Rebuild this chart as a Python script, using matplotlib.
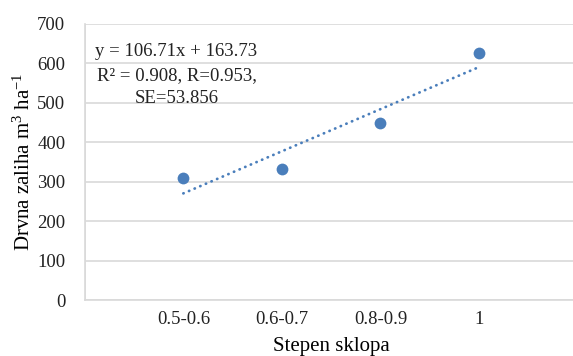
"""
Drvna zaliha prema stepenu sklopa - scatter with linear trendline
"""

# IMPORT
import matplotlib.pyplot as plt
import numpy as np

# DATA
categories = ['0.5-0.6', '0.6-0.7', '0.8-0.9', '1']
zaliha = [310, 333, 450, 625]
slope = 106.71
intercept = 163.73
eq_text = 'y = 106.71x + 163.73\nR² = 0.908, R=0.953,\nSE=53.856'

plt.rcParams['font.family'] = ['Liberation Serif', 'DejaVu Serif']
plt.rcParams['mathtext.fontset'] = 'custom'
plt.rcParams['mathtext.rm'] = 'Liberation Serif'
plt.rcParams['mathtext.it'] = 'Liberation Serif:italic'
blue = '#4a7ebb'
grid_col = '#d9d9d9'

# PLOT
fig = plt.figure(figsize=(5.73, 3.56), dpi=100)
ax = fig.add_axes([0.148, 0.157, 0.86, 0.776])

x = np.arange(1, len(categories) + 1)
ax.scatter(x, zaliha, s=72, color=blue, zorder=3, linewidths=0)

# trendline
xt = np.array([x[0], x[-1]])
ax.plot(xt, slope * xt + intercept, color=blue, lw=2,
        linestyle=(0, (0.1, 2.1)), dash_capstyle='round', zorder=2)

ax.set_xlim(0, 5)
ax.set_ylim(0, 700)
ax.set_yticks(range(0, 701, 100))
ax.set_xticks(x)
ax.set_xticklabels(categories)
ax.set_xticks(range(0, 6), minor=True)

# excel-like grid
ax.yaxis.grid(True, color=grid_col, lw=1.2, zorder=0)
ax.xaxis.grid(True, which='minor', color=grid_col, lw=1.2, zorder=0)
ax.set_axisbelow(True)
for s in ['top', 'right']:
    ax.spines[s].set_visible(False)
for s in ['bottom', 'left']:
    ax.spines[s].set_color(grid_col)
    ax.spines[s].set_linewidth(1.2)
ax.tick_params(which='both', length=0, labelsize=13.5, colors='#222222', pad=8)
ax.tick_params(axis='y', pad=14)

ax.set_xlabel('Stepen sklopa', fontsize=15, labelpad=6)
ax.set_ylabel(r'Drvna zaliha m$^3$ ha$^{-1}$', fontsize=15, labelpad=2)

ax.text(0.93, 570, eq_text, fontsize=13.5, ha='center', va='center',
        linespacing=1.5, color='#222222')

fig.savefig('out.png', dpi=100)
